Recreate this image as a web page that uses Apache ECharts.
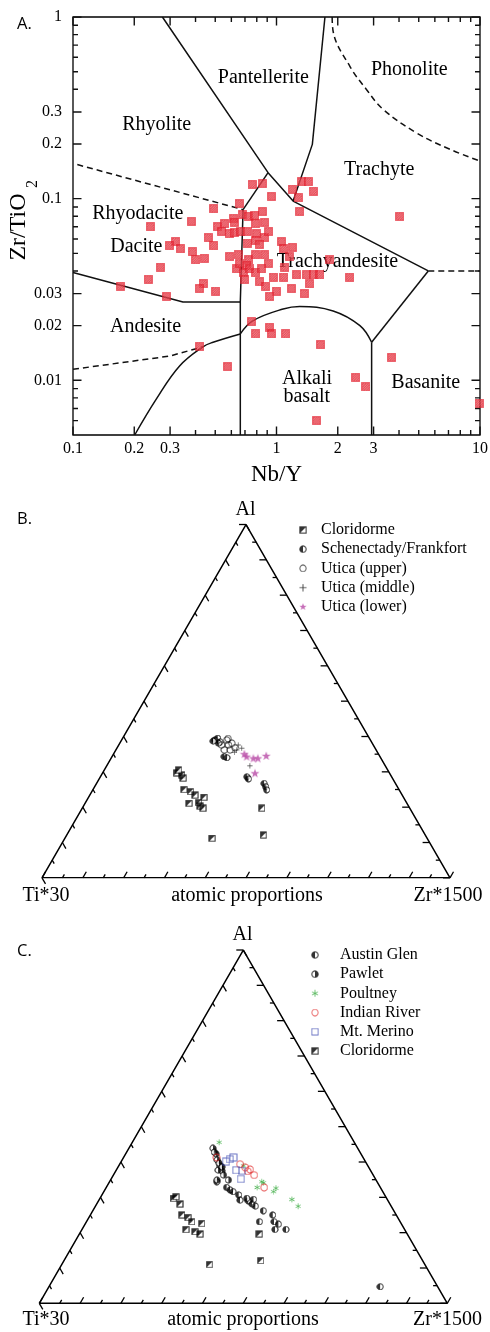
<!DOCTYPE html>
<html><head><meta charset="utf-8">
<script src="https://cdn.jsdelivr.net/npm/echarts@6/dist/echarts.min.js"></script>
<style>html,body{margin:0;padding:0;background:#fff}#c{width:490px;height:1332px}</style>
</head><body><div id="c"></div>
<script>
// ---------- Panel A data ----------
const xTicksMajor = [0.1, 0.2, 0.3, 1, 2, 3, 10];
const xTickLabels = ['0.1', '0.2', '0.3', '1', '2', '3', '10'];
const xTicksMinor = [0.4, 0.5, 0.6, 0.7, 0.8, 0.9, 4, 5, 6, 7, 8, 9];
const yTicksMajor = [0.01, 0.02, 0.03, 0.1, 0.2, 0.3, 1];
const yTickLabels = ['0.01', '0.02', '0.03', '0.1', '0.2', '0.3', '1'];
const yTicksMinor = [0.006, 0.007, 0.008, 0.009, 0.04, 0.05, 0.06, 0.07, 0.08, 0.09, 0.4, 0.5, 0.6, 0.7, 0.8, 0.9];

const samplesA = [
 [0.759,0.120],[0.853,0.121],[0.945,0.103],[1.198,0.113],[1.327,0.124],[1.431,0.124],[1.515,0.110],[1.278,0.101],
 [1.302,0.085],[0.655,0.094],[0.492,0.088],[0.382,0.075],[0.240,0.070],[0.617,0.078],[0.619,0.074],[0.681,0.082],
 [0.726,0.080],[0.782,0.081],[0.853,0.085],[0.791,0.073],[0.876,0.074],[0.513,0.070],[0.557,0.073],[0.537,0.066],
 [0.585,0.064],[0.619,0.065],[0.668,0.066],[0.717,0.066],[0.797,0.064],[0.791,0.059],[0.876,0.061],[0.917,0.066],
 [0.822,0.056],[0.717,0.057],[0.461,0.061],[0.492,0.055],[0.320,0.058],[0.297,0.055],[0.337,0.053],[0.386,0.051],
 [0.401,0.046],[0.441,0.047],[0.590,0.048],[0.648,0.049],[0.731,0.046],[0.791,0.049],[0.876,0.049],[0.910,0.044],
 [1.058,0.058],[1.087,0.053],[1.198,0.054],[1.154,0.048],[0.636,0.041],[0.712,0.043],[0.686,0.039],[0.739,0.041],
 [0.699,0.036],[0.791,0.039],[0.844,0.041],[0.828,0.035],[0.886,0.033],[0.963,0.037],[1.099,0.042],[1.087,0.037],
 [1.254,0.038],[1.404,0.038],[1.458,0.034],[1.515,0.038],[1.634,0.038],[1.829,0.046],[1.185,0.032],[1.368,0.030],
 [1.000,0.031],[0.927,0.029],[0.436,0.034],[0.417,0.032],[0.503,0.031],[0.288,0.029],[0.269,0.042],[0.234,0.036],
 [0.660,0.044],[0.171,0.033],[2.294,0.037],[4.04,0.080],[0.753,0.021],[0.791,0.018],[0.927,0.0196],[0.945,0.018],
 [1.111,0.018],[1.646,0.0157],[0.42,0.0154],[0.574,0.0119],[3.68,0.0134],[2.455,0.0104],[2.75,0.0092],[9.89,0.0075],
 [1.573,0.0060]
];

// field boundaries (Nb/Y, Zr/TiO2)
const bndRhyPant = [[0.275,1],[0.909,0.139],[1.207,0.097],[5.57,0.040]];
const bndTrachBas = [[5.57,0.040],[10,0.040]];
const bndPantTrach = [[1.73,1],[1.50,0.199],[1.207,0.097]];
const bndRhydTrachy = [[0.909,0.139],[0.685,0.087]];
const bndVertical = [[0.685,0.087],[0.664,0.027],[0.664,0.005]];
const bndRhyRhyd = [[0.105,0.154],[0.685,0.087]];
const bndDacAnd = [[0.1,0.0392],[0.347,0.027],[0.664,0.027]];
const bndAndDash = [[0.1,0.0115],[0.299,0.0136],[0.435,0.0153]];
const bndAndCurve = [[0.201,0.005],[0.257,0.0079],[0.334,0.012],[0.435,0.0153],[0.488,0.0162],[0.664,0.018]];
const bndAlkDome = [[0.664,0.018],[0.767,0.0213],[1.078,0.0247],[1.30,0.0255],[1.898,0.0241],[2.57,0.020],[2.934,0.0162]];
const bndAlkBas = [[2.934,0.0162],[2.934,0.005]];
const bndBasTrachy = [[2.934,0.0162],[5.57,0.040]];
const bndPhonolite = [[1.877,1],[1.898,0.834],[2.294,0.535],[2.772,0.398],[3.345,0.31],[4.882,0.23],[7.12,0.187],[10,0.161]];

const fieldNames = ['Pantellerite','Phonolite','Rhyolite','Trachyte','Rhyodacite','Dacite','Trachyandesite','Andesite','Alkali','basalt','Basanite'];

// ---------- Ternary data [Ti*30, Al, Zr*1500] fractions ----------
const ternTicks = [0,0.05,0.1,0.15,0.2,0.25,0.3,0.35,0.4,0.45,0.5,0.55,0.6,0.65,0.7,0.75,0.8,0.85,0.9,0.95,1];

const cloridormeB = [[0.522,0.297,0.181],[0.512,0.291,0.197],[0.513,0.282,0.205],[0.513,0.305,0.182],[0.527,0.250,0.223],
 [0.514,0.244,0.242],[0.508,0.234,0.258],[0.489,0.228,0.283],[0.534,0.211,0.255],[0.510,0.213,0.277],[0.511,0.203,0.286],
 [0.507,0.197,0.296],[0.363,0.197,0.440],[0.527,0.112,0.361],[0.397,0.121,0.482]];
const schenectadyB = [[0.381,0.390,0.229],[0.372,0.395,0.233],[0.371,0.385,0.244],[0.377,0.381,0.242],[0.387,0.387,0.226],
 [0.382,0.343,0.275],[0.377,0.340,0.283],[0.355,0.286,0.359],[0.354,0.280,0.366],[0.322,0.267,0.411],[0.323,0.258,0.419],
 [0.325,0.249,0.426]];
const uticaUpperB = [[0.372,0.376,0.252],[0.352,0.390,0.258],[0.355,0.376,0.269],[0.344,0.381,0.275],[0.372,0.362,0.266],
 [0.358,0.362,0.280],[0.343,0.368,0.289],[0.347,0.394,0.259]];
const uticaMiddleB = [[0.331,0.376,0.293],[0.342,0.362,0.296],[0.351,0.355,0.294],[0.332,0.317,0.351],[0.327,0.367,0.306]];
const uticaLowerB = [[0.329,0.350,0.321],[0.327,0.343,0.330],[0.313,0.338,0.349],[0.302,0.338,0.360],[0.278,0.345,0.377],
 [0.330,0.296,0.374]];

const austinGlenC = [[0.393,0.344,0.263],[0.377,0.328,0.295],[0.372,0.321,0.307],[0.367,0.316,0.317],[0.358,0.307,0.335],
 [0.362,0.292,0.346],[0.343,0.290,0.367],[0.338,0.281,0.381],[0.333,0.275,0.392],[0.320,0.262,0.418],[0.303,0.250,0.447],
 [0.345,0.231,0.424],[0.309,0.231,0.460],[0.302,0.224,0.474],[0.318,0.209,0.473],[0.291,0.209,0.500],[0.141,0.047,0.812],
 [0.343,0.297,0.360],[0.328,0.294,0.378]];
const pawletC = [[0.355,0.439,0.206],[0.355,0.423,0.222],[0.361,0.406,0.233],[0.362,0.389,0.249],[0.365,0.375,0.260],
 [0.367,0.363,0.270],[0.390,0.349,0.261],[0.362,0.349,0.289],[0.357,0.428,0.215],[0.361,0.397,0.242],[0.373,0.377,0.250],
 [0.359,0.386,0.255]];
const poultneyC = [[0.331,0.456,0.213],[0.283,0.344,0.373],[0.302,0.328,0.370],[0.280,0.341,0.379],[0.268,0.316,0.416],
 [0.257,0.326,0.417],[0.234,0.294,0.472],[0.228,0.275,0.497],[0.305,0.389,0.306]];
const indianRiverC = [[0.359,0.413,0.228],[0.311,0.394,0.295],[0.303,0.385,0.312],[0.294,0.379,0.327],[0.292,0.363,0.345],
 [0.285,0.328,0.387],[0.302,0.374,0.324]];
const mtMerinoC = [[0.318,0.413,0.269],[0.342,0.401,0.257],[0.329,0.377,0.294],[0.316,0.375,0.309],[0.330,0.352,0.318],
 [0.329,0.408,0.263]];
const cloridormeC = [[0.523,0.297,0.180],[0.514,0.302,0.184],[0.515,0.281,0.204],[0.526,0.250,0.224],[0.514,0.243,0.243],
 [0.511,0.231,0.258],[0.489,0.226,0.285],[0.536,0.209,0.255],[0.517,0.203,0.280],[0.508,0.196,0.296],[0.363,0.196,0.441],
 [0.528,0.110,0.362],[0.397,0.121,0.482]];

// ---------- helpers ----------
const SERIF = '"Liberation Serif","DejaVu Serif",serif';
const SANS = '"Open Sans","Noto Sans",sans-serif';
const H = Math.sqrt(3) / 2;
const X_MIN = 0.1, X_MAX = 10, Y_MIN = 0.005, Y_MAX = 1;
const GA = { left: 73, top: 17, width: 407, height: 418 };
function tern(p) { const s = p[0] + p[1] + p[2]; const al = p[1] / s, zr = p[2] / s; return [zr + al / 2, al * H]; }

function sym(draw) {
  const S = 40, c = document.createElement('canvas'); c.width = c.height = S;
  const g = c.getContext('2d'); draw(g, S); return 'image://' + c.toDataURL();
}
const RED = '#e3202e';
const symHatch = sym(g => {
  g.fillStyle = '#fff'; g.fillRect(3, 3, 34, 34);
  g.save(); g.beginPath(); g.rect(3, 3, 34, 34); g.clip();
  g.strokeStyle = RED; g.lineWidth = 6;
  for (let k = -44; k < 84; k += 10) { g.beginPath(); g.moveTo(k, 40); g.lineTo(k + 40, 0); g.stroke(); }
  g.restore(); g.strokeStyle = RED; g.lineWidth = 5; g.strokeRect(3, 3, 34, 34);
});
const symHalfSq = sym(g => {
  g.fillStyle = '#fff'; g.fillRect(4, 4, 32, 32);
  g.fillStyle = '#000'; g.beginPath(); g.moveTo(4, 4); g.lineTo(36, 4); g.lineTo(4, 36); g.closePath(); g.fill();
  g.strokeStyle = '#000'; g.lineWidth = 5; g.strokeRect(4, 4, 32, 32);
});
function halfCircle(left) {
  return sym(g => {
    g.fillStyle = '#fff'; g.beginPath(); g.arc(20, 20, 16, 0, Math.PI * 2); g.fill();
    g.fillStyle = '#000'; g.beginPath();
    if (left) g.arc(20, 20, 16, Math.PI / 2, Math.PI * 1.5); else g.arc(20, 20, 16, -Math.PI / 2, Math.PI / 2);
    g.closePath(); g.fill();
    g.strokeStyle = '#000'; g.lineWidth = 5; g.beginPath(); g.arc(20, 20, 16, 0, Math.PI * 2); g.stroke();
  });
}
const symHalfL = halfCircle(true), symHalfR = halfCircle(false);
function openCircle(col, lw) {
  return sym(g => { g.strokeStyle = col; g.lineWidth = lw; g.beginPath(); g.arc(20, 20, 16, 0, Math.PI * 2); g.stroke(); });
}
const symOCirc = openCircle('#000', 4), symRedCirc = openCircle('#e02424', 4);
const symOSq = sym(g => { g.strokeStyle = '#3a48b0'; g.lineWidth = 4; g.strokeRect(4, 4, 32, 32); });
const symPlus = sym(g => { g.strokeStyle = '#000'; g.lineWidth = 4; g.beginPath(); g.moveTo(20, 2); g.lineTo(20, 38); g.moveTo(2, 20); g.lineTo(38, 20); g.stroke(); });
const symAster = sym(g => {
  g.strokeStyle = '#33a83a'; g.lineWidth = 4; g.beginPath();
  for (let k = 0; k < 3; k++) { const a = Math.PI / 2 + k * Math.PI / 3; g.moveTo(20 + 17 * Math.cos(a), 20 + 17 * Math.sin(a)); g.lineTo(20 - 17 * Math.cos(a), 20 - 17 * Math.sin(a)); }
  g.stroke();
});
const symStar = sym(g => {
  g.fillStyle = '#b84aa6'; g.beginPath();
  for (let k = 0; k < 10; k++) { const r = k % 2 ? 7.5 : 19, a = -Math.PI / 2 + k * Math.PI / 5; const x = 20 + r * Math.cos(a), y = 21 + r * Math.sin(a); k ? g.lineTo(x, y) : g.moveTo(x, y); }
  g.closePath(); g.fill();
});

function ln(x1, y1, x2, y2, w) {
  return { type: 'polyline', shape: { points: [[x1, y1], [x2, y2]] }, style: { stroke: '#000', fill: null, lineWidth: w || 1.3 } };
}
function renderXLabel(params, api) {
  const v = api.value(0), idx = api.value(2);
  const pb = api.coord([v, Y_MIN]);
  return { type: 'text', style: { text: xTickLabels[idx], x: pb[0], y: pb[1] + 14, align: 'center', verticalAlign: 'middle', font: '16px ' + SERIF, fill: '#000' } };
}
function renderYLabel(params, api) {
  const v = api.value(1), idx = api.value(2);
  const pl = api.coord([X_MIN, v]);
  return { type: 'text', style: { text: yTickLabels[idx], x: pl[0] - 11, y: pl[1], align: 'right', verticalAlign: 'middle', font: '16px ' + SERIF, fill: '#000' } };
}
function renderTernTick(params, api) {
  const t = api.value(0), major = api.value(2);
  const L = major ? 7 : 4;
  const b = api.coord([t, 0]), r = api.coord([1 - t / 2, t * H]), l = api.coord([t / 2, t * H]);
  return { type: 'group', children: [
    ln(b[0], b[1], b[0] + L * 0.5, b[1] - L * H),
    ln(r[0], r[1], r[0] - L, r[1]),
    ln(l[0], l[1], l[0] + L * 0.5, l[1] + L * H)
  ] };
}

const xLabelData = xTicksMajor.map((v, i) => [v, Y_MIN, i]);
const yLabelData = yTicksMajor.map((v, i) => [X_MIN, v, i]);
const ternTickData = ternTicks.map((t, i) => [t, 0, i % 2 === 0 ? 1 : 0]);

function bline(data, dashed, smooth, w) {
  return { type: 'line', xAxisIndex: 0, yAxisIndex: 0, data, showSymbol: false, symbol: 'none', smooth: smooth || false,
    silent: true, lineStyle: { color: '#111', width: w || 1.5, type: dashed ? [6, 4] : 'solid' }, z: 2 };
}

// Panel A tick marks: one short line series per tick, length converted from px to a factor along the log axis
const decX = Math.log10(X_MAX / X_MIN), decY = Math.log10(Y_MAX / Y_MIN);
const fx = px => Math.pow(10, px / GA.width * decX), fy = px => Math.pow(10, px / GA.height * decY);
const tickSeries = [];
[[xTicksMajor, 8.5], [xTicksMinor, 5]].forEach(([vals, L]) => vals.forEach(v => {
  tickSeries.push(bline([[v, Y_MIN], [v, Y_MIN * fy(L)]], false, false, 1.4));
  tickSeries.push(bline([[v, Y_MAX], [v, Y_MAX / fy(L)]], false, false, 1.4));
}));
[[yTicksMajor, 8.5], [yTicksMinor, 5]].forEach(([vals, L]) => vals.forEach(v => {
  tickSeries.push(bline([[X_MIN, v], [X_MIN * fx(L), v]], false, false, 1.4));
  tickSeries.push(bline([[X_MAX, v], [X_MAX / fx(L), v]], false, false, 1.4));
}));

const triEdge = [[0, 0], [1, 0], [0.5, H], [0, 0]];
function triSeries(ix) {
  return { type: 'line', xAxisIndex: ix, yAxisIndex: ix, data: triEdge, showSymbol: false, symbol: 'none', silent: true,
    lineStyle: { color: '#000', width: 1.5 }, z: 2 };
}
function ternScatter(name, ix, arr, symbol, size) {
  return { type: 'scatter', name, xAxisIndex: ix, yAxisIndex: ix, data: arr.map(tern), symbol, symbolSize: size, z: 5 };
}

// ---------- graphics ----------
function txt(text, x, y, size, opts) {
  return Object.assign({ type: 'text', x, y, silent: true,
    style: Object.assign({ text, font: size + 'px ' + SERIF, fill: '#000', align: 'center', verticalAlign: 'middle' }, (opts && opts.style) || {}) },
    (opts && opts.el) || {});
}
const fieldPos = [[263.3,77.3],[409.3,69.3],[156.7,125],[379.2,170],[137.8,213.5],[136.3,246.5],[337.5,262],[145.5,326.5],[307,378.3],[306.8,397],[425.8,382.6]];
const graphics = fieldNames.map((n, i) => txt(n, fieldPos[i][0], fieldPos[i][1], 20));
graphics.push(txt('Nb/Y', 276.5, 475, 23));
graphics.push(txt('Zr/TiO', 19, 227, 24, { el: { rotation: Math.PI / 2 } }));
graphics.push(txt('2', 33, 184, 16, { el: { rotation: Math.PI / 2 } }));
graphics.push({ type: 'text', x: 17, y: 24.5, silent: true, style: { text: 'A.', font: '16.5px ' + SANS, fill: '#000', align: 'left', verticalAlign: 'middle' } });
graphics.push({ type: 'text', x: 17, y: 519, silent: true, style: { text: 'B.', font: '16.5px ' + SANS, fill: '#000', align: 'left', verticalAlign: 'middle' } });
graphics.push({ type: 'text', x: 17, y: 951.5, silent: true, style: { text: 'C.', font: '16.5px ' + SANS, fill: '#000', align: 'left', verticalAlign: 'middle' } });
graphics.push(txt('Al', 245.5, 509.5, 20));
graphics.push(txt('Ti*30', 46, 895.5, 20));
graphics.push(txt('atomic proportions', 247, 895.5, 20));
graphics.push(txt('Zr*1500', 448, 895.5, 20));
graphics.push(txt('Al', 242.5, 934.5, 20));
graphics.push(txt('Ti*30', 46, 1320, 20));
graphics.push(txt('atomic proportions', 243, 1320, 20));
graphics.push(txt('Zr*1500', 447.5, 1320, 20));

const legendText = { fontFamily: SERIF, fontSize: 16, color: '#000', lineHeight: 16 };

const option = {
  animation: false,
  backgroundColor: '#fff',
  grid: [
    Object.assign({ show: true, borderColor: '#000', borderWidth: 1.3, backgroundColor: 'transparent' }, GA),
    { left: 42, top: 524.5, width: 408, height: 408 * H },
    { left: 39.3, top: 950, width: 408, height: 408 * H }
  ],
  xAxis: [
    { type: 'log', logBase: 10, gridIndex: 0, min: X_MIN, max: X_MAX, show: false },
    { type: 'value', gridIndex: 1, min: 0, max: 1, show: false },
    { type: 'value', gridIndex: 2, min: 0, max: 1, show: false }
  ],
  yAxis: [
    { type: 'log', logBase: 10, gridIndex: 0, min: Y_MIN, max: Y_MAX, show: false },
    { type: 'value', gridIndex: 1, min: 0, max: H, show: false },
    { type: 'value', gridIndex: 2, min: 0, max: H, show: false }
  ],
  legend: [
    { orient: 'vertical', left: 299, top: 522, padding: 0, itemWidth: 8, itemHeight: 8, itemGap: 3.2, selectedMode: false,
      data: ['Cloridorme', 'Schenectady/Frankfort', 'Utica (upper)', 'Utica (middle)', 'Utica (lower)'],
      textStyle: Object.assign({ padding: [0, 0, 0, 9] }, legendText) },
    { orient: 'vertical', left: 311, top: 947, padding: 0, itemWidth: 8, itemHeight: 8, itemGap: 3.2, selectedMode: false,
      data: ['Austin Glen', 'Pawlet', 'Poultney', 'Indian River', 'Mt. Merino', 'Cloridorme'],
      textStyle: Object.assign({ padding: [0, 0, 0, 16] }, legendText) }
  ],
  graphic: graphics,
  series: [
    bline(bndRhyPant), bline(bndTrachBas, true), bline(bndPantTrach), bline(bndRhydTrachy), bline(bndVertical),
    bline(bndRhyRhyd, true), bline(bndDacAnd), bline(bndAndDash, true), bline(bndAndCurve, false, 0.4),
    bline(bndAlkDome, false, 0.4), bline(bndAlkBas), bline(bndBasTrachy), bline(bndPhonolite, true, 0.4)
  ].concat(tickSeries).concat([
    { type: 'custom', xAxisIndex: 0, yAxisIndex: 0, data: xLabelData, renderItem: renderXLabel, silent: true, clip: false, z: 6 },
    { type: 'custom', xAxisIndex: 0, yAxisIndex: 0, data: yLabelData, renderItem: renderYLabel, silent: true, clip: false, z: 6 },
    { type: 'scatter', name: 'samples', xAxisIndex: 0, yAxisIndex: 0, data: samplesA, symbol: symHatch, symbolSize: 9, z: 5 },
    triSeries(1), triSeries(2),
    { type: 'custom', xAxisIndex: 1, yAxisIndex: 1, data: ternTickData, renderItem: renderTernTick, silent: true, clip: false, z: 3 },
    { type: 'custom', xAxisIndex: 2, yAxisIndex: 2, data: ternTickData, renderItem: renderTernTick, silent: true, clip: false, z: 3 },
    ternScatter('Cloridorme', 1, cloridormeB, symHalfSq, 7.5),
    ternScatter('Schenectady/Frankfort', 1, schenectadyB, symHalfL, 7.5),
    ternScatter('Utica (upper)', 1, uticaUpperB, symOCirc, 8),
    ternScatter('Utica (middle)', 1, uticaMiddleB, symPlus, 6),
    ternScatter('Utica (lower)', 1, uticaLowerB, symStar, 10),
    ternScatter('Austin Glen', 2, austinGlenC, symHalfL, 7.5),
    ternScatter('Pawlet', 2, pawletC, symHalfR, 7.5),
    ternScatter('Poultney', 2, poultneyC, symAster, 7),
    ternScatter('Indian River', 2, indianRiverC, symRedCirc, 8.5),
    ternScatter('Mt. Merino', 2, mtMerinoC, symOSq, 8.5),
    ternScatter('Cloridorme', 2, cloridormeC, symHalfSq, 7.5)
  ])
};
const chart = echarts.init(document.getElementById('c'), null, { renderer: 'canvas' });
chart.setOption(option);
</script>
</body></html>
